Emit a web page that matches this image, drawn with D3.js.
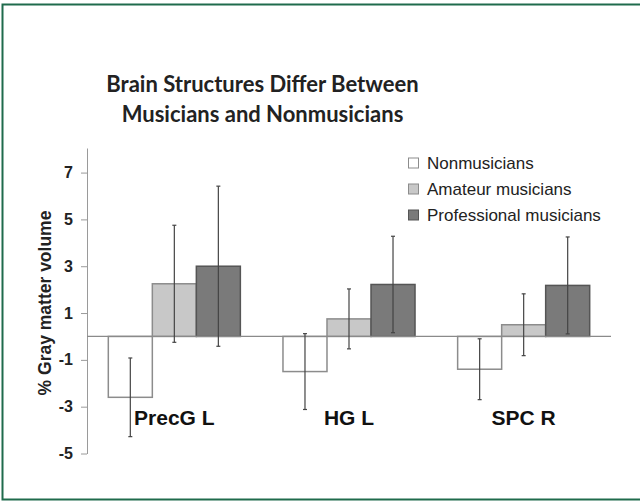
<!DOCTYPE html>
<html><head><meta charset="utf-8">
<script src="https://cdn.jsdelivr.net/npm/d3@7"></script>
<style>body{margin:0;background:#fff}svg{display:block}</style>
</head><body>
<svg id="c" width="640" height="501"></svg>
<script>
const categories = ["PrecG L", "HG L", "SPC R"];
const seriesNames = ["Nonmusicians", "Amateur musicians", "Professional musicians"];
const nonmusicians = [-2.6, -1.5, -1.4];
const nonmusiciansErr = [1.68, 1.62, 1.3];
const amateur = [2.25, 0.75, 0.5];
const amateurErr = [2.5, 1.28, 1.32];
const professional = [3.0, 2.22, 2.18];
const professionalErr = [3.42, 2.06, 2.07];
const yTicks = [-5, -3, -1, 1, 3, 5, 7];
const titleLines = ["Brain Structures Differ Between", "Musicians and Nonmusicians"];
const yTitle = "% Gray matter volume";

const fills = ["#ffffff", "#c8c8c8", "#7a7a7a"];
const strokes = ["#8c8c8c", "#8c8c8c", "#555555"];
const seriesVals = [nonmusicians, amateur, professional];
const seriesErr = [nonmusiciansErr, amateurErr, professionalErr];

const svg = d3.select("#c");
const font = "'Liberation Sans', Arial, sans-serif";

// frame (right side lies outside the picture)
svg.append("rect").attr("x", 2.5).attr("y", 4.5).attr("width", 645).attr("height", 495)
  .attr("fill", "none").attr("stroke", "#1f6b4c").attr("stroke-width", 2);

// title
svg.append("g").selectAll("text").data(titleLines).join("text")
  .attr("x", 262.5).attr("y", (d, i) => 91.5 + i * 30)
  .attr("text-anchor", "middle")
  .style("font-family", "Lato, 'Open Sans', sans-serif").style("font-weight", "bold")
  .style("font-size", "22px").attr("fill", "#222")
  .text(d => d);

const y = d3.scaleLinear().domain([-5, 8.05]).range([453.5, 148]);
const x0 = d3.scaleBand().domain(categories).range([87, 611]).paddingInner(0.244).paddingOuter(0.122);
const x1 = d3.scaleBand().domain(seriesNames).range([0, x0.bandwidth()]).padding(0);

// y axis
const ax = svg.append("g").attr("transform", "translate(87,0)")
  .call(d3.axisLeft(y).tickValues(yTicks).tickSize(6).tickSizeOuter(0).tickPadding(8).tickFormat(d => String(d)));
ax.select(".domain").attr("stroke", "#9a9a9a");
ax.selectAll(".tick line").attr("stroke", "#9a9a9a");
ax.selectAll(".tick text").style("font-family", font).style("font-weight", "bold").style("font-size", "16px").attr("fill", "#222");

svg.append("text").attr("transform", "translate(51,303) rotate(-90)")
  .attr("text-anchor", "middle").style("font-family", font).style("font-weight", "bold")
  .style("font-size", "17.5px").attr("fill", "#222").text(yTitle);

// bars
const data = [];
categories.forEach((c, ci) => seriesNames.forEach((s, si) => data.push({c, s, si, v: seriesVals[si][ci], e: seriesErr[si][ci]})));

const g = svg.append("g");
g.selectAll("rect.bar").data(data).join("rect").attr("class", "bar")
  .attr("x", d => x0(d.c) + x1(d.s))
  .attr("y", d => y(Math.max(0, d.v)))
  .attr("width", x1.bandwidth())
  .attr("height", d => Math.abs(y(d.v) - y(0)))
  .attr("fill", d => fills[d.si]).attr("stroke", d => strokes[d.si]).attr("stroke-width", 1.5);

// baseline
svg.append("line").attr("x1", 87).attr("x2", 611).attr("y1", y(0)).attr("y2", y(0))
  .attr("stroke", "#8a8a8a").attr("stroke-width", 1.3);

// error bars
const eg = svg.append("g").attr("stroke", "#444").attr("stroke-width", 1.2);
data.forEach(d => {
  const cx = x0(d.c) + x1(d.s) + x1.bandwidth() / 2;
  eg.append("line").attr("x1", cx).attr("x2", cx).attr("y1", y(d.v + d.e)).attr("y2", y(d.v - d.e));
  [d.v + d.e, d.v - d.e].forEach(t => eg.append("line").attr("x1", cx - 2).attr("x2", cx + 2).attr("y1", y(t)).attr("y2", y(t)));
});

// category labels
svg.append("g").selectAll("text").data(categories).join("text")
  .attr("x", d => x0(d) + x0.bandwidth() / 2).attr("y", 425)
  .attr("text-anchor", "middle").style("font-family", font).style("font-weight", "bold")
  .style("font-size", "21px").attr("fill", "#111").text(d => d);

// legend
const lg = svg.append("g");
seriesNames.forEach((s, i) => {
  const cy = 163 + i * 26;
  lg.append("rect").attr("x", 408.5).attr("y", cy - 5).attr("width", 10).attr("height", 10)
    .attr("fill", fills[i]).attr("stroke", strokes[i]).attr("stroke-width", 1);
  lg.append("text").attr("x", 427).attr("y", cy + 6).style("font-family", font)
    .style("font-size", "17px").attr("fill", "#222").text(s);
});
</script>
</body></html>
